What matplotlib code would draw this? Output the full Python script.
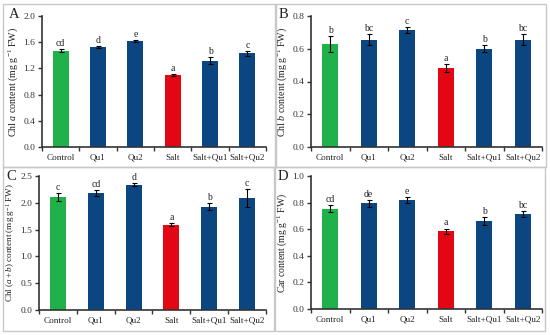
import matplotlib
matplotlib.use("Agg")
import matplotlib.pyplot as plt
from matplotlib.patches import Rectangle
import numpy as np

plt.rcParams['font.family'] = ['Liberation Serif', 'DejaVu Serif']
plt.rcParams['mathtext.fontset'] = 'custom'
plt.rcParams['mathtext.rm'] = 'Liberation Serif'
plt.rcParams['mathtext.it'] = 'Liberation Serif:italic'

categories = ["Control", "Qu1", "Qu2", "Salt", "Salt+Qu1", "Salt+Qu2"]
colors = ["#20B14A", "#0B4680", "#0B4680", "#E30613", "#0B4680", "#0B4680"]

chla = [1.47, 1.53, 1.62, 1.10, 1.32, 1.43]
chla_err = [0.02, 0.015, 0.015, 0.015, 0.06, 0.04]
chla_let = ["cd", "d", "e", "a", "b", "c"]

chlb = [0.63, 0.655, 0.715, 0.48, 0.60, 0.655]
chlb_err = [0.05, 0.035, 0.02, 0.025, 0.02, 0.035]
chlb_let = ["b", "bc", "c", "a", "b", "bc"]

chlab = [2.11, 2.18, 2.34, 1.59, 1.93, 2.09]
chlab_err = [0.07, 0.05, 0.03, 0.03, 0.06, 0.16]
chlab_let = ["c", "cd", "d", "a", "b", "c"]

car = [0.755, 0.795, 0.82, 0.585, 0.66, 0.715]
car_err = [0.025, 0.025, 0.025, 0.02, 0.03, 0.02]
car_let = ["cd", "de", "e", "a", "b", "bc"]

W, H = 550, 335
fig = plt.figure(figsize=(5.5, 3.35), dpi=100)

def fx(px): return px / W
def fy(py): return 1 - py / H

# panel frames
for (x0, y0, x1, y1) in [(3, 4, 276, 167), (275, 4, 546, 167), (3, 167, 274, 331), (275, 167, 545, 331)]:
    fig.patches.append(Rectangle((fx(x0), fy(y1)), fx(x1 - x0), (y1 - y0) / H,
                                 transform=fig.transFigure, fill=False,
                                 edgecolor="#C8C8C8", linewidth=1.0))

panels = [
    dict(vals=chla, err=chla_err, let=chla_let, box=(42, 16, 266, 147), ylim=(0, 2.0),
         yt=[0.0, 0.4, 0.8, 1.2, 1.6, 2.0], fmt="%.1f", lab="A", ylfs=7.2,
         ylabel=r"Chl $\mathit{a}$ content (mg g$^{-1}$ FW)", labpos=(14, 15)),
    dict(vals=chlb, err=chlb_err, let=chlb_let, box=(311, 16, 542, 147), ylim=(0, 0.8),
         yt=[0.0, 0.2, 0.4, 0.6, 0.8], fmt="%.1f", lab="B", ylfs=7.2,
         ylabel=r"Chl $\mathit{b}$ content (mg g$^{-1}$ FW)", labpos=(283, 15)),
    dict(vals=chlab, err=chlab_err, let=chlab_let, box=(39, 176, 266, 310), ylim=(0, 2.5),
         yt=[0.0, 0.5, 1.0, 1.5, 2.0, 2.5], fmt="%.1f", lab="C", ylfs=6.6,
         ylabel=r"Chl ($\mathit{a+b}$) content (mg g$^{-1}$ FW)", labpos=(11, 177)),
    dict(vals=car, err=car_err, let=car_let, box=(311, 176, 542, 309), ylim=(0, 1.0),
         yt=[0.0, 0.2, 0.4, 0.6, 0.8, 1.0], fmt="%.1f", lab="D", ylfs=7.0,
         ylabel=r"Car content (mg g$^{-1}$ FW)", labpos=(283, 177)),
]

x = np.arange(len(categories))
for p in panels:
    x0, y0, x1, y1 = p["box"]
    ax = fig.add_axes([fx(x0), fy(y1), fx(x1 - x0), (y1 - y0) / H])
    ax.bar(x, p["vals"], width=0.42, color=colors, zorder=2)
    ax.errorbar(x, p["vals"], yerr=p["err"], fmt="none", ecolor="black",
                elinewidth=0.8, capsize=1.8, capthick=0.8, zorder=3)
    top = p["ylim"][1]
    for xi, v, e, l in zip(x, p["vals"], p["err"], p["let"]):
        ax.text(xi, v + e + top * 0.008, l, ha="center", va="bottom", fontsize=7, color="#222222")
    ax.set_xlim(-0.5, 5.5)
    ax.set_ylim(*p["ylim"])
    ax.set_yticks(p["yt"])
    ax.set_yticklabels([p["fmt"] % t for t in p["yt"]])
    ax.set_xticks(x)
    ax.set_xticklabels(categories)
    ax.set_xticks(np.arange(-0.5, 6.0, 1.0), minor=True)
    ax.tick_params(axis="x", which="major", length=0, labelsize=6.6, pad=5, colors="#222222")
    ax.tick_params(axis="x", which="minor", length=3, width=1, direction="out", color="#333333")
    ax.tick_params(axis="y", which="major", length=3, width=1, direction="out", labelsize=6.8,
                   color="#333333", labelcolor="#333333", pad=2)
    for s in ["top", "right"]:
        ax.spines[s].set_visible(False)
    for s in ["left", "bottom"]:
        ax.spines[s].set_color("#333333")
        ax.spines[s].set_linewidth(1.2)
    ax.set_ylabel(p["ylabel"], fontsize=p["ylfs"], labelpad=2, color="#222222")
    fig.text(fx(p["labpos"][0]), fy(p["labpos"][1]), p["lab"], fontsize=10.5,
             ha="center", va="center", color="#222222")

fig.savefig("out.png", dpi=100)
